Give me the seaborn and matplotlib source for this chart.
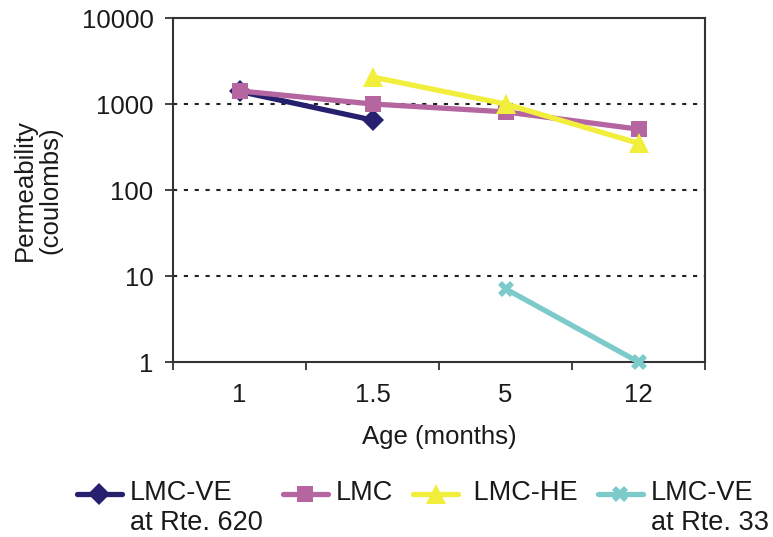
import matplotlib
matplotlib.use("Agg")
import matplotlib.pyplot as plt
import seaborn as sns
import pandas as pd
import numpy as np
from matplotlib.ticker import FixedLocator, NullFormatter, NullLocator
from matplotlib.legend_handler import HandlerLine2D

# ---- data ----
ages = ["1", "1.5", "5", "12"]
series_names = ["LMC-VE\nat Rte. 620", "LMC", " LMC-HE", "LMC-VE\nat Rte. 33"]
ve620_ages = ["1", "1.5"]
ve620_vals = [1400, 650]
lmc_ages = ["1", "1.5", "5", "12"]
lmc_vals = [1420, 1000, 810, 510]
he_ages = ["1.5", "5", "12"]
he_vals = [2060, 1000, 350]
ve33_ages = ["5", "12"]
ve33_vals = [7.1, 1.0]
y_ticks = [1, 10, 100, 1000, 10000]
y_ticklabels = ["1", "10", "100", "1000", "10000"]

sns.set_theme(style="white")
plt.rcParams['font.family'] = ['Liberation Sans', 'DejaVu Sans']

fig = plt.figure(figsize=(7.73, 5.37), dpi=100)
ax = fig.add_axes([173/773, 1-362/537, (705-173)/773, (362-18)/537])

colors = ["#27206f", "#b565a0", "#f2ee3c", "#7ccaca"]
markers = ["D", "s", "^", "X"]
msizes = [11, 11, 14, 11]

rows = []
for name, a_list, v_list in zip(series_names,
                                [ve620_ages, lmc_ages, he_ages, ve33_ages],
                                [ve620_vals, lmc_vals, he_vals, ve33_vals]):
    for a, v in zip(a_list, v_list):
        rows.append({"series": name, "pos": ages.index(a), "value": v})
df = pd.DataFrame(rows)

for i, name in enumerate(series_names):
    sub = df[df["series"] == name]
    sns.lineplot(data=sub, x="pos", y="value", ax=ax, color=colors[i],
                 marker=markers[i], markersize=msizes[i], linewidth=3.8,
                 markeredgewidth=0, label=name, zorder=3 + i, clip_on=False)

ax.set_yscale("log")
ax.set_ylim(1, 10000)
ax.set_xlim(-0.5, len(ages) - 0.5)
ax.yaxis.set_major_locator(FixedLocator(y_ticks))
ax.set_yticklabels(y_ticklabels)
ax.yaxis.set_minor_locator(NullLocator())

# category boundaries as major ticks, labels on minor ticks at centers
ax.xaxis.set_major_locator(FixedLocator(np.arange(len(ages) + 1) - 0.5))
ax.xaxis.set_major_formatter(NullFormatter())
ax.xaxis.set_minor_locator(FixedLocator(np.arange(len(ages))))
ax.set_xticklabels(ages, minor=True)

ax.tick_params(axis="both", which="major", direction="out", length=6,
               width=1.3, color="#333333", labelsize=18.5, labelcolor="#1a1a1a",
               bottom=True, left=True)
ax.tick_params(axis="y", which="major", pad=8)
ax.tick_params(axis="x", which="minor", length=0, labelsize=18.5,
               labelcolor="#1a1a1a", pad=15, bottom=True)

for y in [10, 100, 1000]:
    ax.axhline(y, color="#222222", linewidth=1.5, linestyle=(0, (2, 3.2)), zorder=1)

for s in ax.spines.values():
    s.set_visible(True)
    s.set_color("#333333")
    s.set_linewidth(1.5)

ax.set_xlabel("Age (months)", fontsize=18.5, color="#1a1a1a", labelpad=13)
ax.set_ylabel("Permeability\n(coulombs)", fontsize=18.5, color="#1a1a1a",
              labelpad=14, linespacing=1.05)
ax.grid(False)


class UpHandler(HandlerLine2D):
    def __init__(self, shift, **kw):
        super().__init__(**kw)
        self.shift = shift

    def create_artists(self, legend, orig_handle, xdescent, ydescent, width,
                       height, fontsize, trans):
        arts = super().create_artists(legend, orig_handle, xdescent, ydescent,
                                      width, height, fontsize, trans)
        for a in arts:
            a.set_ydata(np.asarray(a.get_ydata(), dtype=float) + self.shift)
        return arts


handles, labels = ax.get_legend_handles_labels()
ax.get_legend().remove()
labels = [l if "\n" in l else l + "\n " for l in labels]
hmap = {h: UpHandler(shift=10.8) for h in handles}
leg = fig.legend(handles, labels, loc="upper left", bbox_to_anchor=(66/773, 1-469/537),
                 ncol=4, frameon=False, fontsize=19.5, handlelength=1.66,
                 handletextpad=0.3, columnspacing=0.74, borderaxespad=0,
                 handler_map=hmap)
for t in leg.get_texts():
    t.set_linespacing(1.22)
    t.set_color("#1a1a1a")

fig.savefig("out.png", dpi=100)
